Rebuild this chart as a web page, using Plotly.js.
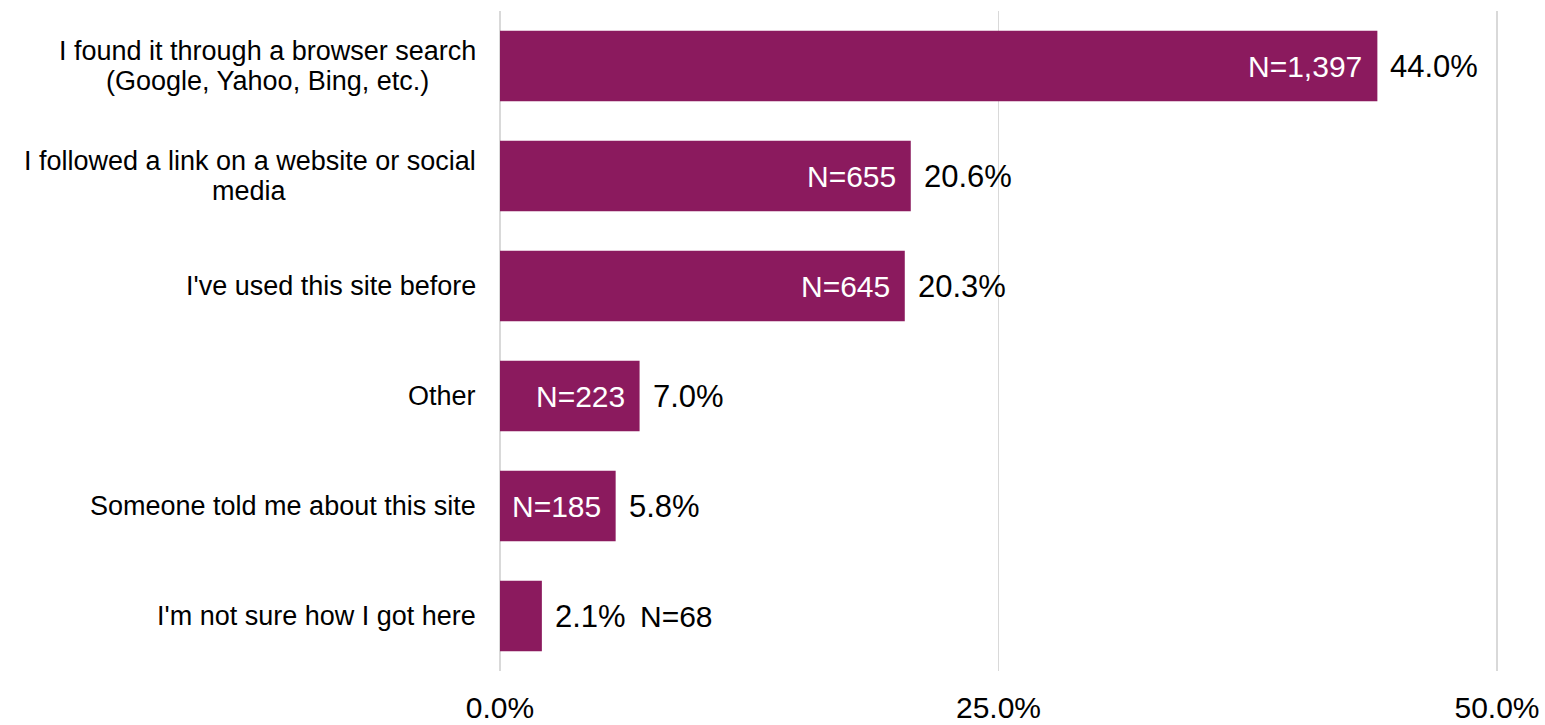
<!DOCTYPE html>
<html>
<head>
<meta charset="utf-8">
<script src="https://cdn.plot.ly/plotly-3.0.1.min.js"></script>
<style>
  html, body { margin: 0; padding: 0; background: #fff; }
  #graph { width: 1545px; height: 725px; }
</style>
</head>
<body>
<div id="graph"></div>
<script>
// answers, top to bottom (lines split where the chart wraps them)
var answers = [
  'I found it through a browser search<br>(Google, Yahoo, Bing, etc.)',
  'I followed a link on a website or social<br>media',
  "I've used this site before",
  'Other',
  'Someone told me about this site',
  "I'm not sure how I got here"
];
var percents = [44.0, 20.6, 20.3, 7.0, 5.8, 2.1];
var counts = ['1,397', '655', '645', '223', '185', '68'];
// the smallest bar is too short for its N label, so it sits outside
var countInside = [true, true, true, true, true, false];
var tickValues = [0, 25, 50];
var tickLabels = ['0.0%', '25.0%', '50.0%'];

var barColor = '#8B1A5E';
var fontFamily = '"Liberation Sans", Arial, sans-serif';
var labelSize = 27;
var lineGap = 30;

// measure label lines so wrapped lines can be centred under each other
var ctx = document.createElement('canvas').getContext('2d');
ctx.font = labelSize + 'px "Liberation Sans", Arial, sans-serif';
function textWidth(s) { return ctx.measureText(s).width; }

var trace = {
  type: 'bar',
  orientation: 'h',
  y: answers,
  x: percents,
  marker: { color: barColor },
  width: 0.64,
  hoverinfo: 'none'
};

var annotations = [];
for (var i = 0; i < answers.length; i++) {
  var lines = answers[i].split('<br>');
  var widths = lines.map(textWidth);
  var widest = Math.max.apply(null, widths);
  for (var k = 0; k < lines.length; k++) {
    annotations.push({
      x: 0, xref: 'paper', y: answers[i], yref: 'y',
      text: lines[k],
      showarrow: false, xanchor: 'right',
      xshift: -22 - (widest - widths[k]) / 2,
      yshift: ((lines.length - 1) / 2 - k) * lineGap,
      font: { family: fontFamily, size: labelSize, color: '#000' }
    });
  }
  annotations.push({
    x: percents[i], y: answers[i], xref: 'x', yref: 'y',
    text: percents[i].toFixed(1) + '%',
    showarrow: false, xanchor: 'left', xshift: 11,
    font: { family: fontFamily, size: 31, color: '#000' }
  });
  if (countInside[i]) {
    annotations.push({
      x: percents[i], y: answers[i], xref: 'x', yref: 'y',
      text: 'N=' + counts[i],
      showarrow: false, xanchor: 'right', xshift: -13,
      font: { family: fontFamily, size: 30, color: '#fff' }
    });
  } else {
    annotations.push({
      x: percents[i], y: answers[i], xref: 'x', yref: 'y',
      text: 'N=' + counts[i],
      showarrow: false, xanchor: 'left', xshift: 96,
      font: { family: fontFamily, size: 30, color: '#000' }
    });
  }
}

var layout = {
  width: 1545,
  height: 725,
  margin: { l: 500, r: 46, t: 11, b: 54 },
  paper_bgcolor: '#fff',
  plot_bgcolor: '#fff',
  showlegend: false,
  bargap: 0.36,
  font: { family: fontFamily, color: '#000' },
  xaxis: {
    range: [0, 50.1],   // a hair past 50 so the 50% gridline is kept
    tickvals: tickValues,
    ticktext: tickLabels,
    showgrid: true,
    gridcolor: '#d9d9d9',
    gridwidth: 1.5,
    zeroline: true,
    zerolinecolor: '#d9d9d9',
    zerolinewidth: 2,
    showline: false,
    ticks: '',
    ticklabelstandoff: 16,
    tickfont: { family: fontFamily, size: 30, color: '#000' },
    fixedrange: true
  },
  yaxis: {
    autorange: 'reversed',
    showgrid: false,
    zeroline: false,
    showline: false,
    ticks: '',
    showticklabels: false,
    fixedrange: true
  },
  annotations: annotations
};

Plotly.newPlot('graph', [trace], layout, { displayModeBar: false, staticPlot: true });
</script>
</body>
</html>
